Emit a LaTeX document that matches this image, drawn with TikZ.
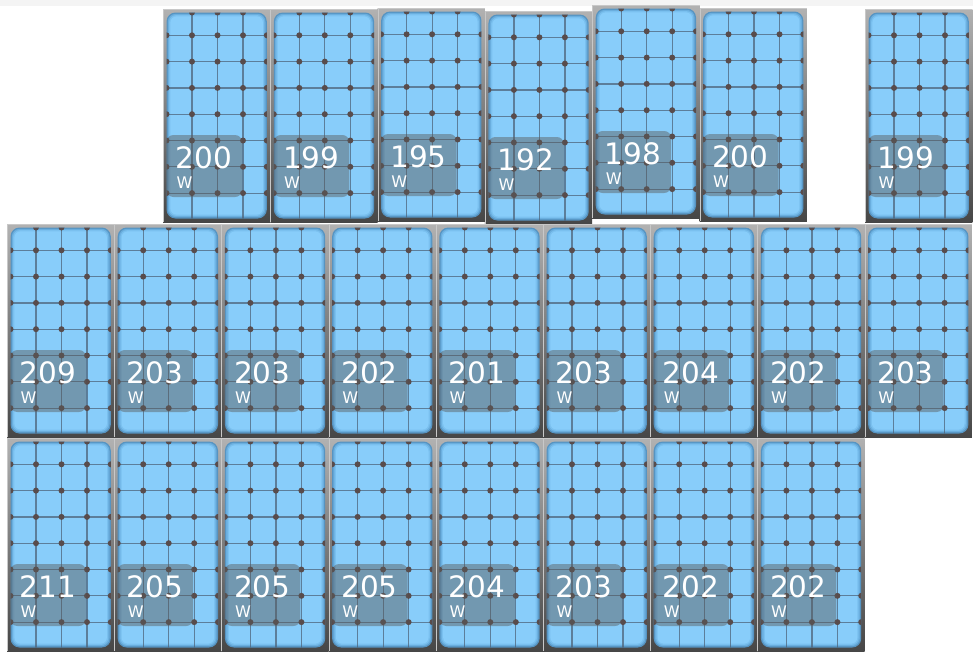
\documentclass[tikz,border=0pt]{standalone}
\usepackage{fontspec}
\setmainfont{DejaVu Sans}
\definecolor{frametop}{RGB}{178,178,178}
\definecolor{framebot}{RGB}{70,70,70}
\definecolor{framehi}{RGB}{200,200,200}
\definecolor{blueA}{RGB}{86,148,194}
\definecolor{blueB}{RGB}{106,174,222}
\definecolor{blueC}{RGB}{122,192,239}
\definecolor{blueD}{RGB}{136,205,250}
\definecolor{gridc}{RGB}{78,100,122}
\definecolor{dotc}{RGB}{88,76,76}
\definecolor{boxc}{RGB}{90,90,90}
\definecolor{topstrip}{RGB}{244,244,244}
\tikzset{
  gridline/.style={draw=gridc, line width=1.2pt, opacity=0.75},
  numtext/.style={anchor=base west, inner sep=0pt, text=white, font=\fontsize{29.5}{30}\selectfont},
  unittext/.style={anchor=base west, inner sep=0pt, text=white, font=\fontsize{16}{16}\selectfont},
  pics/solar/.style={code={
    \shade[top color=frametop, bottom color=framebot] (0,0) rectangle (107.3,213);
    \draw[framehi, line width=0.8pt] (0.4,213) -- (0.4,0.4) -- (107,0.4);
    \fill[blueA, rounded corners=9pt] (3.5,3.5) rectangle (103.8,209.5);
    \fill[blueB, rounded corners=8pt] (4.8,4.8) rectangle (102.5,208.2);
    \fill[blueC, rounded corners=7pt] (6.1,6.1) rectangle (101.2,206.9);
    \fill[blueD, rounded corners=6pt] (7.4,7.4) rectangle (99.9,205.6);
    \begin{scope}
      \clip[rounded corners=9pt] (3.5,3.5) rectangle (103.8,209.5);
      \foreach \gx in {29,54.5,80} \draw[gridline] (\gx,3.5) -- (\gx,209.5);
      \foreach \k in {1,...,7} \draw[gridline] (3.5,26.3*\k) -- (103.8,26.3*\k);
      \foreach \k in {1,...,7} \foreach \gx in {3.5,29,54.5,80,103.8}
        \fill[dotc] (\gx,26.3*\k) circle (3pt);
      \foreach \gx in {29,54.5,80} \fill[dotc] (\gx,3.5) circle (3pt);
    \end{scope}
    \fill[boxc, opacity=0.46, rounded corners=7pt] (3.5,126) rectangle (79,188);
    \node[numtext] (-num) at (12.5,159) {#1};
    \node[unittext] (-unit) at (13.5,179) {W};
  }}
}
\begin{document}
\begin{tikzpicture}[x=1pt, y=-1pt]
\useasboundingbox (0,0) rectangle (973,656);
\fill[white] (0,0) rectangle (973,656);
\fill[topstrip] (0,0) rectangle (973,6);
% row 1
\pic (a1) at (163,9) {solar=200};
\pic (a2) at (270.3,9) {solar=199};
\pic (a3) at (377.6,8) {solar=195};
\pic (a4) at (484.9,11) {solar=192};
\pic (a6) at (699.5,8) {solar=200};
\pic (a5) at (592.2,5) {solar=198};
\pic (a7) at (865,9) {solar=199};
% row 2
\pic (b1) at (7,224) {solar=209};
\pic (b2) at (114.2,224) {solar=203};
\pic (b3) at (221.4,224) {solar=203};
\pic (b4) at (328.6,224) {solar=202};
\pic (b5) at (435.8,224) {solar=201};
\pic (b6) at (543,224) {solar=203};
\pic (b7) at (650.2,224) {solar=204};
\pic (b8) at (757.4,224) {solar=202};
\pic (b9) at (864.6,224) {solar=203};
% row 3
\pic (c1) at (7,438) {solar=211};
\pic (c2) at (114.2,438) {solar=205};
\pic (c3) at (221.4,438) {solar=205};
\pic (c4) at (328.6,438) {solar=205};
\pic (c5) at (435.8,438) {solar=204};
\pic (c6) at (543,438) {solar=203};
\pic (c7) at (650.2,438) {solar=202};
\pic (c8) at (757.4,438) {solar=202};
\end{tikzpicture}
\end{document}
